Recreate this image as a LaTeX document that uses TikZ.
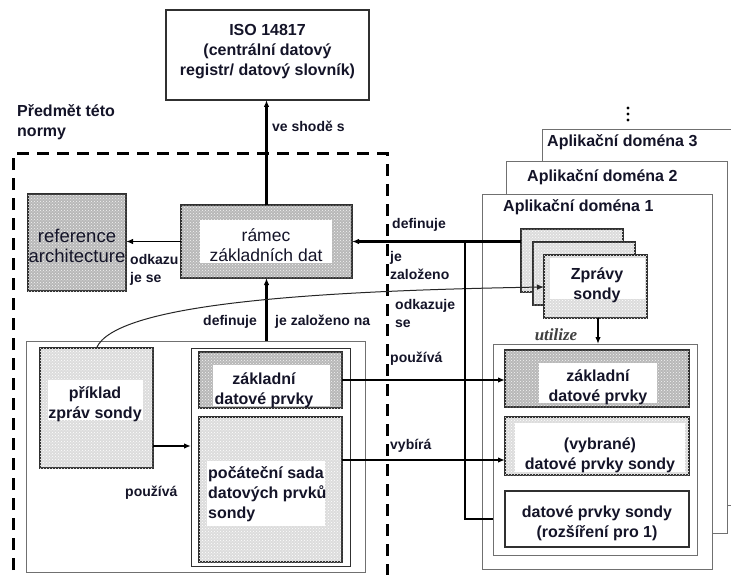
\documentclass[tikz,border=0pt]{standalone}
\usepackage{fontspec}
\setmainfont{Liberation Sans}
\newfontfamily\serifit{Liberation Serif}
\usetikzlibrary{arrows.meta,calc,patterns}
\definecolor{ink}{HTML}{141428}
\definecolor{darkfill}{HTML}{B8B8B8}
\definecolor{lightfill}{HTML}{DCDCDC}
\definecolor{edge}{HTML}{303030}
\definecolor{framec}{HTML}{707070}
\newcommand\mybox[6]{\node[#1, minimum width={(#5)-(#3)}, minimum height={(#6)-(#4)}] (#2) at (#3,#4) {};}
\begin{document}
\begin{tikzpicture}[x=1pt,y=-1pt,
  bx/.style={draw=edge, line width=1.3pt, inner sep=0pt, outer sep=0pt, anchor=north west},
  dk/.style={bx, fill=darkfill, postaction={pattern=crosshatch dots, pattern color=white!85!darkfill}},
  lt/.style={bx, fill=lightfill, postaction={pattern=crosshatch dots, pattern color=white}},
  wh/.style={bx, fill=white},
  hole/.style={fill=white, draw=none, inner sep=0pt, outer sep=0pt, anchor=north west},
  frame/.style={draw=framec, line width=0.9pt, fill=white, inner sep=0pt, outer sep=0pt, anchor=north west},
  openframe/.style={draw=framec, line width=0.9pt, inner sep=0pt, outer sep=0pt, anchor=north west},
  bt/.style={font=\bfseries\fontsize{16}{20}\selectfont, text=ink, align=center, inner sep=0pt},
  lb/.style={font=\bfseries\fontsize{14}{17.5}\selectfont, text=ink, align=left, inner sep=0pt, anchor=west},
  rg/.style={font=\fontsize{17.5}{20}\selectfont, text=ink, align=center, inner sep=0pt},
  arr/.style={-{Latex[length=7pt,width=5.5pt]}},
  thickln/.style={line width=2.6pt, draw=black},
  medln/.style={line width=1.8pt, draw=black},
  thinln/.style={line width=1pt, draw=black!85},
  dashframe/.style={line width=3pt, draw=black, dash pattern=on 12pt off 8pt},
]
\useasboundingbox (0,0) rectangle (731,575);
\clip (0,0) rectangle (731,575);

% ISO box
\mybox{wh}{iso}{166}{10}{369}{100}
\node[bt] (isot) at (267.5,52) {ISO 14817\\(centrální datový\\registr/ datový slovník)};

% scope label
\node[bt, align=left, anchor=west] (scopet) at (17,122) {Předmět této\\normy};

% dashed frame
\draw[dashframe] (13,590) -- (13,154) -- (387,154) -- (387,590);

% reference architecture
\mybox{dk}{ref}{28}{194}{126}{291}
\node[rg, font=\fontsize{18.5}{20}\selectfont] (reft) at (77,246) {reference\\architecture};

% ramec
\mybox{dk}{ram}{181}{205}{352}{278}
\mybox{hole}{ramh}{200}{220}{332}{263}
\node[rg] (ramt) at (266,245) {rámec\\základních dat};

% left big frame
\mybox{openframe}{big}{26}{341}{365}{572}

% priklad
\mybox{lt}{pri}{40}{348}{153}{468}
\mybox{hole}{prih}{48}{380}{143}{420}
\node[bt] (prit) at (95,404) {příklad\\zpráv sondy};

% inner box
\mybox{bx, line width=1pt}{inn}{191}{348}{350}{566}
\mybox{dk}{zl}{199}{352}{342}{408}
\mybox{hole}{zlh}{213}{365}{330}{406}
\node[bt] (zlt) at (264,390) {základní\\datové prvky};
\mybox{lt}{poc}{199}{417}{342}{562}
\mybox{hole}{poch}{207}{461}{325}{526}
\node[bt, align=left, anchor=west] (poct) at (208,494) {počáteční sada\\datových prvků\\sondy};

% application domains
\mybox{frame}{d3}{542}{129}{760}{505}
\mybox{frame}{d2}{506}{161}{727}{533}
\mybox{frame}{d1}{482}{194}{712}{569}
\node[bt, anchor=west] (d3t) at (547,142) {Aplikační doména 3};
\node[bt, anchor=west] (d2t) at (527,177) {Aplikační doména 2};
\node[bt, anchor=west] (d1t) at (503,207) {Aplikační doména 1};
\fill[black] (628,108) circle (1.6) (628,114) circle (1.6) (628,120) circle (1.6);

% zpravy stack
\mybox{lt}{zb}{521}{229}{623}{292}
\mybox{lt}{zm}{533}{242}{635}{305}
\mybox{lt}{zpr}{544}{255}{647}{318}
\mybox{hole}{zprh}{550}{258}{645}{299}
\node[bt] (zprt) at (597,285) {Zprávy\\sondy};

% domain 1 contents
\mybox{openframe}{cont}{493}{344}{697}{555}
\mybox{dk}{zr}{505}{350}{689}{407}
\mybox{hole}{zrh}{539}{363}{657}{403}
\node[bt] (zrt) at (598,387) {základní\\datové prvky};
\mybox{lt}{vyb}{505}{417}{689}{475}
\mybox{hole}{vybh}{515}{423}{685}{472}
\node[bt] (vybt) at (600,455) {(vybrané)\\datové prvky sondy};
\mybox{wh}{dps}{505}{491}{689}{547}
\node[bt] (dpst) at (597,523) {datové prvky sondy\\(rozšíření pro 1)};
\node[font=\serifit\bfseries\itshape\fontsize{17}{20}\selectfont, text=black!75, inner sep=0pt] (util) at (556,335) {utilize};

% connectors
\draw[thickln, arr] (ram.north) -- (ram.north |- iso.south);
\draw[medln, arr] (ram.west) -- (ram.west -| ref.east);
\draw[thickln, arr] (ram.south |- big.north) -- (ram.south);
\draw[thinln, arr] (pri.north) .. controls (115,305) and (300,291) .. (zpr.west |- 0,287);
\draw[thickln, arr] (ram.east -| zb.west) -- (ram.east);
\path (ram.east) ++(113,0) coordinate (j);
\draw[thickln] (j) |- (dps.west -| cont.west);
\draw[medln, arr] ($(pri.east)+(0,38)$) coordinate (pa) -- (pa -| inn.west);
\draw[medln, arr] (zl.east) -- (zl.east -| zr.west);
\coordinate (vybin) at ($(vyb.west)+(0,14)$);
\draw[medln, arr] (vybin -| poc.east) -- (vybin);
\draw[medln, arr] (zpr.south -| 598,0) -- (cont.north -| 598,0);

% labels
\node[lb] (l1) at (272,126) {ve shodě s};
\node[lb] (l2) at (130,270) {odkazu\\je se};
\node[lb] (l3) at (203,322) {definuje};
\node[lb] (l4) at (275,322) {je založeno na};
\node[lb] (l5) at (392,225) {definuje};
\node[lb] (l6) at (390,265.5) {je\\založeno};
\node[lb] (l7) at (395,313.5) {odkazuje\\se};
\node[lb] (l8) at (390,359) {používá};
\node[lb] (l9) at (390,446) {vybírá};
\node[lb] (l10) at (125,493) {používá};
\end{tikzpicture}
\end{document}
